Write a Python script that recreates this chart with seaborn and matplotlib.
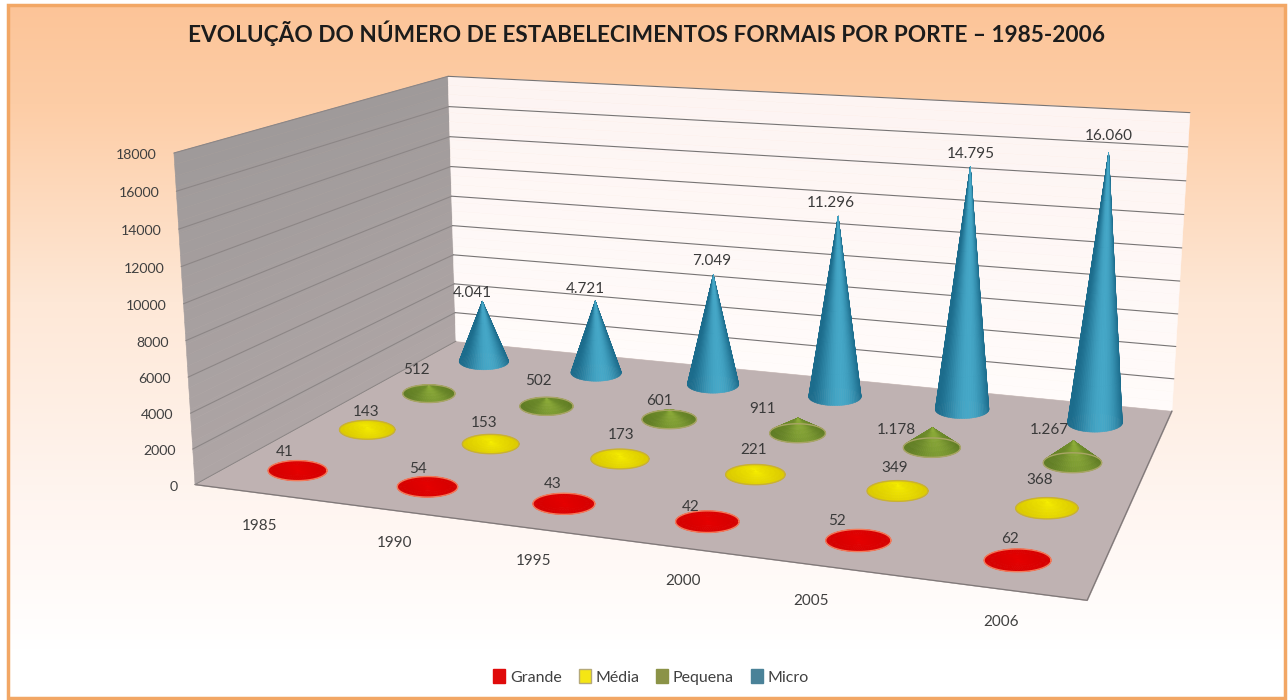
import numpy as np
import matplotlib
matplotlib.use("Agg")
import matplotlib.pyplot as plt
import seaborn as sns
from matplotlib.patches import Patch, Rectangle
from matplotlib.transforms import IdentityTransform

# Dados
anos = ['1985', '1990', '1995', '2000', '2005', '2006']
series = ['Grande', 'Média', 'Pequena', 'Micro']
grande = [41, 54, 43, 42, 52, 62]
media = [143, 153, 173, 221, 349, 368]
pequena = [512, 502, 601, 911, 1178, 1267]
micro = [4041, 4721, 7049, 11296, 14795, 16060]
z_ticks = list(range(0, 18001, 2000))

# cor escura, cor clara, contorno e cor da legenda de cada serie
escuras = ['#d60000', '#dccb00', '#5f7c24', '#1c6c8c']
claras = ['#e80000', '#f8f000', '#8fae3a', '#46a8c8']
contornos = ['#f47a5a', '#c8b036', '#a9a566', None]
legenda_cores = ['#e00a0a', '#f5e614', '#8b9347', '#4a8298']
peso_luz = [0.3, 0.3, 0.6, 1.0]

# deslocamento dos rotulos em pixels, a partir do topo de cada cone
label_dx = [[-13, -9, -11, -17, -21, -8], [-1, -6, 1, -2, -3, -8],
            [-12, -8, -10, -35, -36, -24], [-10, -10, -2, -7, 0, 0]]
label_dy = [[18, 17, 19, 14, 18, 20], [15, 18, 21, 21, 17, 21],
            [16, 17, 9, 9, -2, 11], [8, 12, 14, 13, 13, 17]]
ano_dx = [0, 2, 1, 2, -26, 0]

W, H = 1288, 700
n_x, n_y, z_max = len(anos), len(series), z_ticks[-1]

sns.set_theme(style='white')
plt.rcParams['font.family'] = ['Lato', 'DejaVu Sans']

fig = plt.figure(figsize=(W / 100, H / 100), dpi=100, facecolor='white')

# Fundo em degrade com moldura laranja
bg = fig.add_axes([0, 0, 1, 1], zorder=-1)
linhas = np.arange(H)
stops_y = [0, 100, 300, 500, 650]
grad = np.stack([np.interp(linhas, stops_y, c) for c in
                 ([252, 253, 254, 255, 255], [196, 205, 232, 245, 255],
                  [152, 166, 215, 240, 255])], axis=1)[:, None, :] / 255
bg.imshow(grad, extent=(8, W - 3, H - 2, 5), aspect='auto', zorder=0)
bg.set_xlim(0, W)
bg.set_ylim(H, 0)
bg.axis('off')
bg.add_patch(Rectangle((8, 5), W - 11, H - 7, fill=False, ec='#f2a765', lw=2.5, zorder=1))

# Camera ajustada aos cantos da caixa (x, y, z em mil) -> pixels
cantos = [(0, 0, 0), (6, 0, 0), (6, 4, 0), (0, 4, 0), (0, 0, 18), (0, 4, 18), (6, 4, 18)]
pixels = [(195, 484), (1087, 601), (1172, 410), (456, 342), (174, 153), (448, 76), (1190, 113)]
A, b = [], []
for (cx, cy, cz), (px, py) in zip(cantos, pixels):
    py = H - py
    A.append([cx, cy, cz, 1, 0, 0, 0, 0, -px * cx, -px * cy, -px * cz])
    A.append([0, 0, 0, 0, cx, cy, cz, 1, -py * cx, -py * cy, -py * cz])
    b += [px, py]
p = np.linalg.lstsq(np.array(A, float), np.array(b, float), rcond=None)[0]
P = np.append(p, 1).reshape(3, 4)
P[:, 2] /= 1000


def projeta(x, y, z):
    u, v, w = P @ np.array([x, y, z, 1.0])
    return np.array([u / w, v / w])


ax = fig.add_axes([0, -(W - H) / 2 / H, 1, W / H], projection='3d', computed_zorder=False)
ax.set_facecolor('none')
ax.set_axis_off()


def camera():
    m = ax.transData.inverted().get_matrix() @ P
    return np.array([m[0], m[1], [0, 0, 0, -1], m[2]])


ax.get_proj = camera

niveis = np.linspace(0, z_max, 31)
# parede esquerda
Yw, Zw = np.meshgrid([0, n_y], niveis)
cor_esq = np.array(sns.blend_palette(['#aea5a5', '#9f9a9a'], 30))[:, None, :]
ax.plot_surface(np.zeros_like(Yw), Yw, Zw, facecolors=cor_esq, shade=False, rstride=1, cstride=1,
                linewidth=0.4, zorder=0)
# parede do fundo
Xw, Zw = np.meshgrid([0, n_x], niveis)
cor_fundo = np.array(sns.blend_palette(['#fffbfa', '#fdf4f2'], 30))[:, None, :]
ax.plot_surface(Xw, np.full_like(Xw, n_y), Zw, facecolors=cor_fundo, shade=False, rstride=1,
                cstride=1, linewidth=0.4, zorder=0)
# piso
Xf, Yf = np.meshgrid([0, n_x], [0, n_y])
ax.plot_surface(Xf, Yf, np.zeros_like(Xf), color='#bfb2b2', shade=False, linewidth=0.4,
                edgecolor='#bfb2b2', zorder=1)
ax.plot([0, n_x, n_x], [0, 0, n_y], [0, 0, 0], color='#7f7878', lw=0.9, zorder=2)

for z in z_ticks:
    ax.plot([0, 0], [0, n_y], [z, z], color='#8c8686', lw=0.8, zorder=2)
    if z > 0:
        ax.plot([0, n_x], [n_y, n_y], [z, z], color='#777474', lw=0.8, zorder=2)

# Cones: a base sai como elipse horizontal na imagem, como no grafico original
valores = [grande, media, pequena, micro]
fi = np.linspace(0, 2 * np.pi, 73)
fi_m = (fi[:-1] + fi[1:]) / 2
raios = np.linspace(0, 1, 7)
raios_m = (raios[:-1] + raios[1:]) / 2
w_ref = (P @ np.array([0.5, 0.5, 0, 1]))[2]
for s in range(n_y - 1, -1, -1):
    rampa = np.array(sns.blend_palette([escuras[s], claras[s]], 101))
    luz = np.abs(np.sin(fi_m - 0.22)) ** 3
    brilho = peso_luz[s] * luz[None, :] + (1 - peso_luz[s]) * (1 - raios_m[:, None])
    cores = rampa[(brilho * 100).astype(int)]
    for i in range(n_x):
        h = valores[s][i]
        cx, cy = i + 0.5, s + 0.5
        c0 = projeta(cx, cy, 0)
        J = np.column_stack([projeta(cx + 0.01, cy, 0) - c0, projeta(cx, cy + 0.01, 0) - c0]) / 0.01
        a = 29.5 * w_ref / (P @ np.array([cx, cy, 0, 1]))[2]
        base = np.linalg.solve(J, np.stack([a * np.cos(fi), 0.34 * a * np.sin(fi)]))
        R, idx = np.meshgrid(raios, np.arange(len(fi)), indexing='ij')
        ax.plot_surface(cx + R * base[0][idx], cy + R * base[1][idx], h * (1 - R),
                        facecolors=cores, shade=False, rstride=1, cstride=1, linewidth=0.4,
                        zorder=10 + 2 * (n_y - s))
        if contornos[s]:
            ax.plot(cx + base[0], cy + base[1], np.zeros_like(fi),
                    color=contornos[s], lw=1.0, zorder=11 + 2 * (n_y - s))
        u, v = projeta(cx, cy, h)
        texto = f'{h:,}'.replace(',', '.')
        fig.text(u + label_dx[s][i], v + label_dy[s][i], texto, transform=IdentityTransform(),
                 ha='center', va='center', fontsize=11, color='#3a3a3a')

# Eixos
for z in z_ticks:
    u, v = projeta(0, 0, z)
    fig.text(u - 17, v - 2, str(z), transform=IdentityTransform(), ha='right', va='center',
             fontsize=10.2, color='#404040')
for i, ano in enumerate(anos):
    u, v = projeta(i + 0.5, 0, 0)
    fig.text(u + ano_dx[i], v - 33, ano, transform=IdentityTransform(), ha='center', va='center',
             fontsize=11, color='#404040')

fig.text(647 / W, 1 - 33 / H, 'EVOLUÇÃO DO NÚMERO DE ESTABELECIMENTOS FORMAIS POR PORTE – 1985-2006',
         ha='center', va='center', fontsize=16.3, fontweight='bold', color='#1c1c1c')

handles = [Patch(facecolor=c, edgecolor='#b5a97a' if c == legenda_cores[1] else c, label=l)
           for c, l in zip(legenda_cores, series)]
fig.legend(handles=handles, loc='center', bbox_to_anchor=(651 / W, 1 - 677 / H), ncol=4,
           frameon=False, fontsize=11.5, handlelength=0.75, handleheight=0.9, handletextpad=0.3,
           columnspacing=1.05, labelcolor='#404040')

fig.savefig('out.png', dpi=100)
